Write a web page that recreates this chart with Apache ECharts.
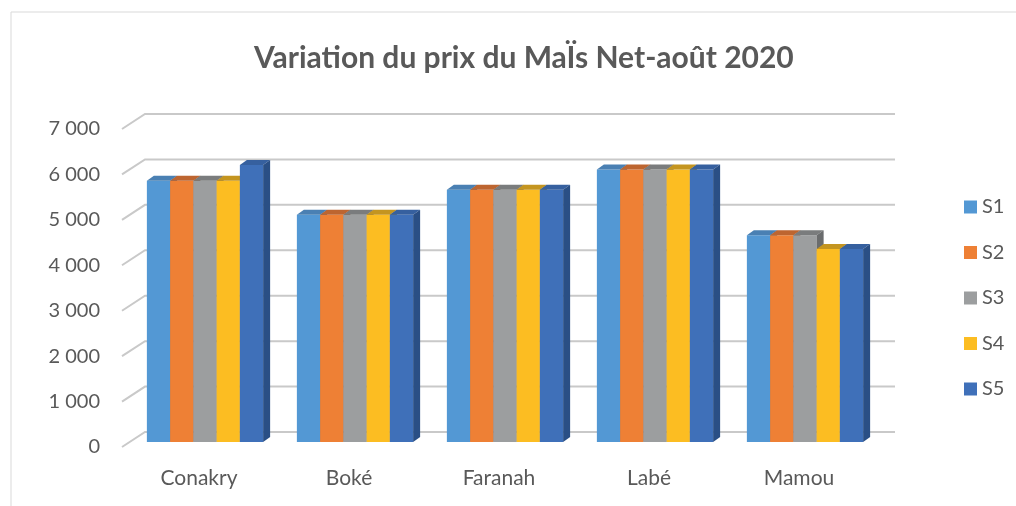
<!DOCTYPE html>
<html>
<head>
<meta charset="utf-8">
<script src="https://cdn.jsdelivr.net/npm/echarts@6/dist/echarts.min.js"></script>
<style>
  html, body { margin: 0; padding: 0; background: #fff; }
  #chart { width: 1016px; height: 506px; }
</style>
</head>
<body>
<div id="chart"></div>
<script>
const categories = ["Conakry", "Boké", "Faranah", "Labé", "Mamou"];
const seriesNames = ["S1", "S2", "S3", "S4", "S5"];
const s1 = [5750, 5000, 5550, 6000, 4550];
const s2 = [5750, 5000, 5550, 6000, 4550];
const s3 = [5750, 5000, 5550, 6000, 4550];
const s4 = [5750, 5000, 5550, 6000, 4250];
const s5 = [6100, 5000, 5550, 6000, 4250];
const yTicks = [0, 1000, 2000, 3000, 4000, 5000, 6000, 7000];

const seriesValues = [s1, s2, s3, s4, s5];
// front, top, side colours for each series
const palette = [
  ["#5398d4", "#4a80b3", "#3f6f9c"],
  ["#ee8035", "#bd6530", "#a35528"],
  ["#9c9e9f", "#7a7c7d", "#6a6c6d"],
  ["#fcbd22", "#c49520", "#a8801a"],
  ["#3f70b9", "#36609f", "#2a4f85"]
];

const FONT = "Lato";
const TXT = "#595959";
const DEPTH_X = 7, DEPTH_Y = -5;     // bar depth
const SHIFT_X = 6, SHIFT_Y = -5;     // bar plane offset from front plane
const WALL_X = 21, WALL_Y = -15;     // back wall offset

const chart = echarts.init(document.getElementById("chart"));

function gridRender(params, api) {
  const cs = params.coordSys;
  const p = api.coord([0, api.value(0)]);
  const y = p[1];
  const x0 = cs.x - 2;
  return {
    type: "polyline",
    shape: {
      points: [[x0, y], [cs.x + WALL_X, y + WALL_Y], [cs.x + cs.width + WALL_X, y + WALL_Y]]
    },
    style: { stroke: "#c9c9c9", lineWidth: 2, fill: null }
  };
}

function barRender(idx) {
  return function (params, api) {
    const cat = api.value(0);
    const top = api.coord([cat, api.value(1)]);
    const base = api.coord([cat, 0]);
    const band = api.size([1, 0])[0];
    const bw = band * 0.155;
    const cx = top[0] + SHIFT_X + (idx - 2) * bw;
    const x0 = cx - bw / 2, x1 = cx + bw / 2;
    const yt = top[1] + SHIFT_Y, yb = base[1] + SHIFT_Y;
    const c = palette[idx];
    return {
      type: "group",
      children: [
        { type: "rect", shape: { x: x0, y: yt, width: bw, height: yb - yt }, style: { fill: c[0] } },
        { type: "polygon", shape: { points: [[x0, yt], [x1, yt], [x1 + DEPTH_X, yt + DEPTH_Y], [x0 + DEPTH_X, yt + DEPTH_Y]] }, style: { fill: c[1] } },
        { type: "polygon", shape: { points: [[x1, yt], [x1 + DEPTH_X, yt + DEPTH_Y], [x1 + DEPTH_X, yb + DEPTH_Y], [x1, yb]] }, style: { fill: c[2] } }
      ]
    };
  };
}

const series = [{
  type: "custom",
  name: "grid",
  renderItem: gridRender,
  data: yTicks.map((v) => [v]),
  encode: { y: 0 },
  clip: false,
  silent: true,
  z: 1
}];

seriesNames.forEach((name, i) => {
  series.push({
    type: "custom",
    name: name,
    renderItem: barRender(i),
    data: seriesValues[i].map((v, j) => [j, v]),
    encode: { x: 0, y: 1 },
    itemStyle: { color: palette[i][0] },
    clip: false,
    z: 2 + i
  });
});

chart.setOption({
  animation: false,
  backgroundColor: "#fff",
  textStyle: { fontFamily: FONT },
  title: {
    text: "Variation du prix du MaÏs Net-août 2020",
    left: 249,
    top: 38,
    textStyle: { fontFamily: FONT, fontSize: 30, fontWeight: "bold", color: TXT }
  },
  legend: {
    data: seriesNames,
    orient: "vertical",
    left: 959,
    top: 192,
    icon: "rect",
    itemWidth: 13,
    itemHeight: 13,
    itemGap: 25.5,
    textStyle: { fontFamily: FONT, fontSize: 20, color: TXT }
  },
  grid: { left: 124, right: 142, top: 129, bottom: 59 },
  xAxis: {
    type: "category",
    data: categories,
    axisLine: { show: false },
    axisTick: { show: false },
    axisLabel: { color: TXT, fontSize: 21, fontFamily: FONT, margin: 21 }
  },
  yAxis: {
    type: "value",
    min: 0,
    max: 7000,
    interval: 1000,
    axisLine: { show: false },
    axisTick: { show: false },
    splitLine: { show: false },
    axisLabel: {
      color: TXT,
      fontSize: 20,
      fontFamily: FONT,
      margin: 24,
      formatter: (v) => v === 0 ? "0" : String(v).replace(/\B(?=(\d{3})+(?!\d))/g, " ")
    }
  },
  graphic: [{
    type: "rect",
    shape: { x: 11, y: 12, width: 1020, height: 510 },
    style: { fill: null, stroke: "#d9d9d9", lineWidth: 1 },
    silent: true
  }],
  series: series
});
</script>
</body>
</html>
